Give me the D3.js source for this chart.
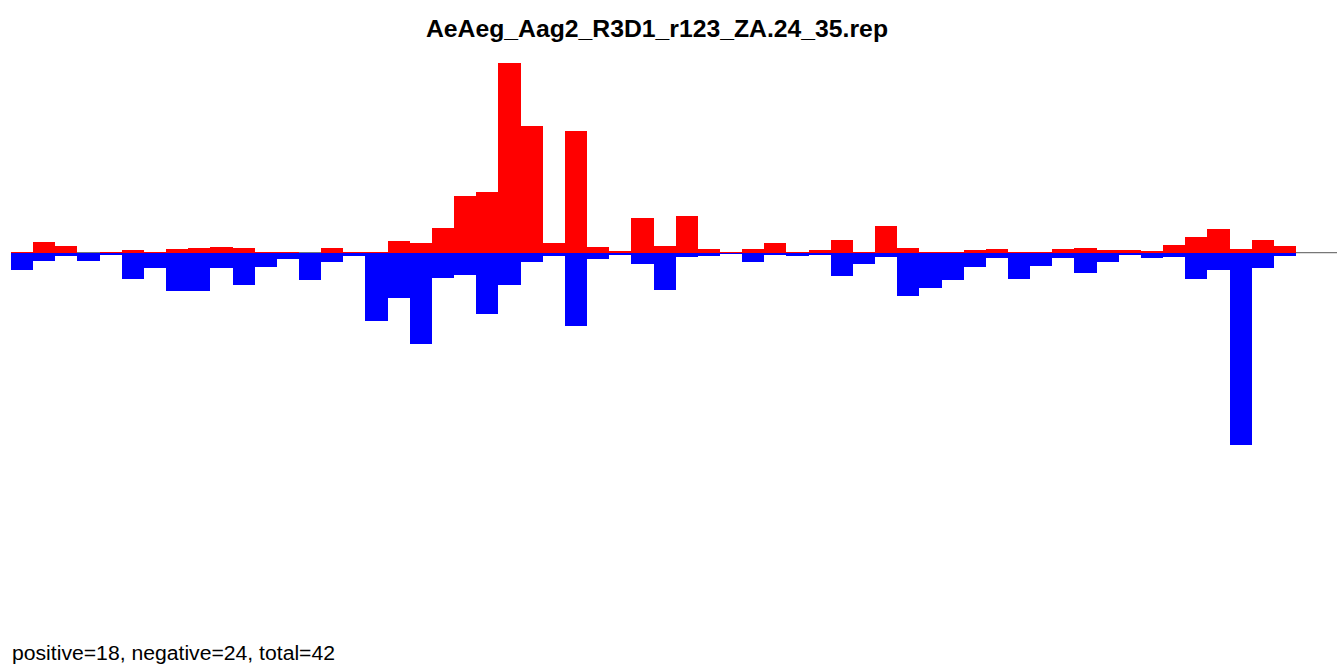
<!DOCTYPE html>
<html>
<head>
<meta charset="utf-8">
<script src="https://cdn.jsdelivr.net/npm/d3@7"></script>
<style>
  html, body { margin: 0; padding: 0; background: #fff; }
  svg { display: block; }
</style>
</head>
<body>
<svg id="chart" width="1337" height="666"></svg>
<script>
const title = "AeAeg_Aag2_R3D1_r123_ZA.24_35.rep";
const footer = "positive=18, negative=24, total=42";

const positions = d3.range(1, 59);
const positiveValues = [0.8, 10.5, 6.5, 0, 0.7, 2.7, 0.7, 3.6, 4.6, 5.5,
  4.5, 0.6, 0.6, 0, 4.5, 0.3, 1.2, 11.6, 9.6, 24.6,
  56.6, 60.6, 189.6, 126.6, 9.6, 121.6, 5.6, 1.6, 34.6, 6.6,
  36.6, 3.6, 1, 3.6, 9.6, 0.7, 2.6, 12.6, 0.3, 26.6,
  4.6, 0.7, 0.7, 2.6, 3.6, 0.7, 0.7, 3.7, 4.7, 2.7,
  2.7, 1.7, 7.7, 15.7, 23.7, 3.7, 12.7, 6.7];
const negativeValues = [-17, -8.3, -3.3, -8.3, -2.2, -26.3, -15.3, -38, -38, -15,
  -32.3, -14, -6.5, -27, -9, -3, -68, -45, -91, -25.5,
  -22.5, -61, -32, -9, -3.5, -73, -6.5, -2.5, -11.5, -37.3,
  -4.5, -3.5, -1, -9.5, -2.5, -3.5, -2.5, -23.5, -11.5, -4.5,
  -43.3, -35.2, -27.2, -14.2, -5.2, -26, -13, -5, -20, -9,
  -2, -5, -4, -26, -17, -192, -15, -3];

const svg = d3.select("#chart");
const W = 1337;

const x = d3.scaleBand().domain(positions).range([11, 1296]).padding(0);
const yMax = d3.max([...positiveValues, ...negativeValues.map(v => -v)]);
const y = d3.scaleLinear().domain([-yMax, yMax]).range([444.7, 60.7]);

// baseline
svg.append("line")
  .attr("x1", 11).attr("x2", W)
  .attr("y1", y(0)).attr("y2", y(0))
  .attr("stroke", "#777").attr("stroke-width", 1.2);

svg.append("g").selectAll("rect")
  .data(positions.map((p, i) => ({p, v: positiveValues[i]})))
  .join("rect")
  .attr("x", d => x(d.p))
  .attr("width", x.bandwidth())
  .attr("y", d => y(d.v))
  .attr("height", d => y(0) - y(d.v))
  .attr("fill", "#ff0000")
  .attr("shape-rendering", "crispEdges");

svg.append("g").selectAll("rect")
  .data(positions.map((p, i) => ({p, v: negativeValues[i]})))
  .join("rect")
  .attr("x", d => x(d.p))
  .attr("width", x.bandwidth())
  .attr("y", y(0))
  .attr("height", d => y(d.v) - y(0))
  .attr("fill", "#0000ff")
  .attr("shape-rendering", "crispEdges");

svg.append("text")
  .attr("x", 657).attr("y", 37)
  .attr("text-anchor", "middle")
  .attr("font-family", "Liberation Sans, Arial, sans-serif")
  .attr("font-weight", "bold")
  .attr("font-size", 24)
  .attr("textLength", 462)
  .attr("lengthAdjust", "spacingAndGlyphs")
  .attr("fill", "#000")
  .text(title);

svg.append("text")
  .attr("x", 12).attr("y", 660)
  .attr("font-family", "Liberation Sans, Arial, sans-serif")
  .attr("font-size", 20)
  .attr("textLength", 323)
  .attr("lengthAdjust", "spacingAndGlyphs")
  .attr("fill", "#000")
  .text(footer);
</script>
</body>
</html>
